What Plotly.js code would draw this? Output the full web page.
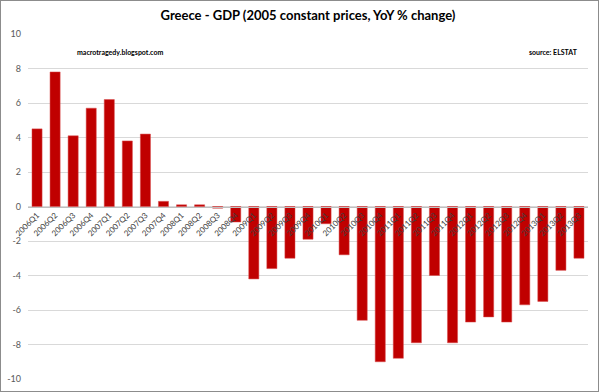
<!DOCTYPE html>
<html>
<head>
<meta charset="utf-8">
<script src="https://cdn.plot.ly/plotly-3.0.1.min.js"></script>
<style>
html,body{margin:0;padding:0;background:#fff;}
#chart{width:599px;height:392px;box-sizing:border-box;border:1px solid #8c8c8c;border-right-width:2px;border-bottom-width:2px;}
</style>
</head>
<body>
<div id="chart"></div>
<script>
const quarters = ["2006Q1","2006Q2","2006Q3","2006Q4","2007Q1","2007Q2","2007Q3","2007Q4",
  "2008Q1","2008Q2","2008Q3","2008Q4","2009Q1","2009Q2","2009Q3","2009Q4",
  "2010Q1","2010Q2","2010Q3","2010Q4","2011Q1","2011Q2","2011Q3","2011Q4",
  "2012Q1","2012Q2","2012Q3","2012Q4","2013Q1","2013Q2","2013Q3"];
const gdpChange = [4.5,7.8,4.1,5.7,6.2,3.8,4.2,0.3,
  0.1,0.1,-0.1,-0.9,-4.2,-3.6,-3.0,-1.9,
  -1.0,-2.8,-6.6,-9.0,-8.8,-7.9,-4.0,-7.9,
  -6.7,-6.4,-6.7,-5.7,-5.5,-3.7,-3.0];
const yTicks = [-10,-8,-6,-4,-2,0,2,4,6,8,10];

const trace = {
  type: "bar",
  x: quarters,
  y: gdpChange,
  marker: {color: "#c00000", line: {color: "#d94d4d", width: 0.5}},
  hoverinfo: "x+y"
};

const layout = {
  width: 597, height: 390,
  margin: {l: 27, r: 10, t: 33, b: 12},
  paper_bgcolor: "#ffffff",
  plot_bgcolor: "#ffffff",
  showlegend: false,
  bargap: 0.44,
  font: {family: "Lato, 'Open Sans', sans-serif", color: "#595959"},
  title: {
    text: "<b>Greece - GDP (2005 constant prices, YoY % change)</b>",
    font: {family: "Lato, 'Open Sans', sans-serif", size: 13, color: "#000000"},
    x: 0.5, xanchor: "center", xref: "paper",
    y: 0.962, yanchor: "middle"
  },
  xaxis: {
    type: "category",
    anchor: "free",
    position: 0.5,
    tickangle: -45,
    tickfont: {size: 8, color: "#404040"},
    showgrid: false,
    showline: true,
    linecolor: "#bfbfbf",
    linewidth: 1,
    ticks: "",
    ticklabelstandoff: 0,
    fixedrange: true
  },
  yaxis: {
    range: [-10, 10],
    tickvals: yTicks,
    ticktext: yTicks.map(String),
    tickfont: {size: 9, color: "#595959"},
    showgrid: true,
    gridcolor: "#d9d9d9",
    gridwidth: 1,
    zeroline: false,
    showline: false,
    ticks: "",
    ticklabelstandoff: 6,
    fixedrange: true
  },
  annotations: [
    {text: "<b>macrotragedy.blogspot.com</b>", xref: "paper", yref: "paper",
     x: 0.084, y: 0.948, xanchor: "left", yanchor: "middle", showarrow: false,
     font: {size: 7, color: "#000000", family: "Lato, 'Open Sans', sans-serif"}},
    {text: "<b>source: ELSTAT</b>", xref: "paper", yref: "paper",
     x: 0.985, y: 0.948, xanchor: "right", yanchor: "middle", showarrow: false,
     font: {size: 7, color: "#000000", family: "Lato, 'Open Sans', sans-serif"}}
  ]
};

Plotly.newPlot("chart", [trace], layout, {displayModeBar: false, staticPlot: true});
</script>
</body>
</html>
